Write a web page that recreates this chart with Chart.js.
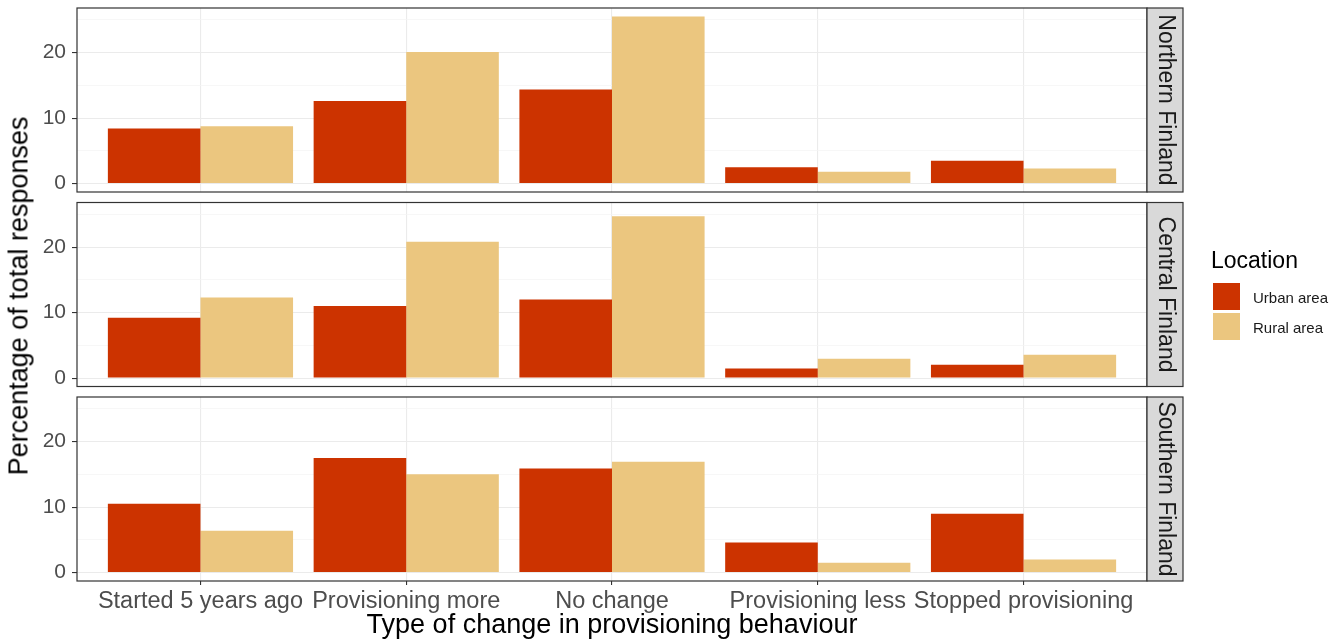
<!DOCTYPE html>
<html><head><meta charset="utf-8">
<script src="https://cdn.jsdelivr.net/npm/chart.js@4"></script>
<style>
html,body{margin:0;padding:0;background:#fff;}
#wrap{position:relative;width:1340px;height:644px;overflow:hidden;font-family:"Liberation Sans",Arial,sans-serif;}
canvas.c{position:absolute;left:0;top:0;pointer-events:none;}
#ytitle{position:absolute;left:19px;top:296px;transform:translate(-50%,-50%) rotate(-90deg);font-size:27px;line-height:1;white-space:nowrap;color:#000;}
.lg{position:absolute;white-space:nowrap;line-height:1;}
.key{position:absolute;width:27px;height:27px;}
</style></head><body>
<div id="wrap">
<canvas id="c0" class="c" width="1340" height="644"></canvas>
<canvas id="c1" class="c" width="1340" height="644"></canvas>
<canvas id="c2" class="c" width="1340" height="644"></canvas>
<div id="ytitle">Percentage of total responses</div>
<div class="lg" id="lgTitle" style="left:1211px;top:249px;font-size:23px;color:#000;"></div>
<div class="key" id="k0" style="left:1213px;top:283px;"></div>
<div class="key" id="k1" style="left:1213px;top:313px;"></div>
<div class="lg" id="l0" style="left:1253px;top:290px;font-size:15px;color:#1a1a1a;"></div>
<div class="lg" id="l1" style="left:1253px;top:320px;font-size:15px;color:#1a1a1a;"></div>
</div>
<script>
const categories = ['Started 5 years ago', 'Provisioning more', 'No change', 'Provisioning less', 'Stopped provisioning'];
const regions = ['Northern Finland', 'Central Finland', 'Southern Finland'];
const seriesNames = ['Urban area', 'Rural area'];
const legendTitle = 'Location';
const xTitle = 'Type of change in provisioning behaviour';
const urbanNorthern = [8.4, 12.6, 14.35, 2.5, 3.5];
const ruralNorthern = [8.75, 20.1, 25.5, 1.8, 2.3];
const urbanCentral = [9.2, 11.0, 12.0, 1.45, 2.05];
const ruralCentral = [12.3, 20.8, 24.7, 2.95, 3.55];
const urbanSouthern = [10.5, 17.5, 15.9, 4.6, 9.0];
const ruralSouthern = [6.4, 15.0, 16.9, 1.5, 2.0];
const yTicks = [0, 5, 10, 15, 20, 25];
const yTickLabels = [0, 10, 20];

const colors = ['#cc3300', '#ebc67f'];
const FAM = '"Liberation Sans", Arial, sans-serif';

document.getElementById('lgTitle').textContent = legendTitle;
document.getElementById('l0').textContent = seriesNames[0];
document.getElementById('l1').textContent = seriesNames[1];
document.getElementById('k0').style.background = colors[0];
document.getElementById('k1').style.background = colors[1];

const panelPlugin = {
  id: 'panel',
  afterDatasetsDraw(chart, args, opts) {
    const {ctx, chartArea: a} = chart;
    ctx.save();
    ctx.strokeStyle = '#333333';
    ctx.lineWidth = 1.2;
    ctx.strokeRect(a.left, a.top, a.right - a.left, a.bottom - a.top);
    const sw = 36;
    ctx.fillStyle = '#d9d9d9';
    ctx.fillRect(a.right, a.top, sw, a.bottom - a.top);
    ctx.strokeRect(a.right, a.top, sw, a.bottom - a.top);
    ctx.translate(a.right + sw / 2, (a.top + a.bottom) / 2);
    ctx.rotate(Math.PI / 2);
    ctx.fillStyle = '#1a1a1a';
    ctx.font = '23px ' + FAM;
    ctx.textAlign = 'center';
    ctx.textBaseline = 'middle';
    ctx.fillText(opts.label, 0, 0);
    ctx.restore();
  }
};

const panels = [
  {id: 'c0', label: regions[0], urban: urbanNorthern, rural: ruralNorthern, top: 8, bottom: 192, showX: false},
  {id: 'c1', label: regions[1], urban: urbanCentral, rural: ruralCentral, top: 202.5, bottom: 386.5, showX: false},
  {id: 'c2', label: regions[2], urban: urbanSouthern, rural: ruralSouthern, top: 397, bottom: 581, showX: true}
];

panels.forEach(p => {
  new Chart(document.getElementById(p.id), {
    type: 'bar',
    data: {
      datasets: [
        {label: seriesNames[0], data: p.urban.map((v, i) => ({x: i + 1, y: v})), backgroundColor: colors[0]},
        {label: seriesNames[1], data: p.rural.map((v, i) => ({x: i + 1, y: v})), backgroundColor: colors[1]}
      ]
    },
    options: {
      responsive: false,
      animation: false,
      events: [],
      layout: {padding: {left: 0, right: 1340 - 1147, top: p.top, bottom: p.showX ? 0 : 644 - p.bottom}},
      datasets: {bar: {categoryPercentage: 0.9, barPercentage: 1, borderWidth: 0}},
      plugins: {legend: {display: false}, tooltip: {enabled: false}, panel: {label: p.label}},
      scales: {
        x: {
          type: 'linear', min: 0.4, max: 5.6, offset: false,
          afterBuildTicks: s => { s.ticks = categories.map((c, i) => ({value: i + 1})); },
          afterFit: s => { s.height = p.showX ? 644 - p.bottom : 0; s.paddingLeft = 0; s.paddingRight = 0; },
          ticks: {display: p.showX, autoSkip: false, maxRotation: 0, minRotation: 0, padding: 2,
                  color: '#4d4d4d', font: {size: 23.5, family: FAM},
                  callback: v => categories[Math.round(v) - 1]},
          grid: {offset: false, color: '#ebebeb', lineWidth: 1.1, drawTicks: p.showX, tickLength: 4, tickColor: '#333333'},
          border: {display: false},
          title: {display: p.showX, text: xTitle, color: '#000', font: {size: 27, family: FAM}, padding: {top: 0, bottom: 2}}
        },
        y: {
          min: -1.28, max: 26.8,
          afterBuildTicks: s => { s.ticks = yTicks.map(v => ({value: v})); },
          afterFit: s => { s.width = 77; s.paddingTop = 0; s.paddingBottom = 0; },
          ticks: {color: '#4d4d4d', padding: 6, font: {size: 21, family: FAM},
                  callback: v => yTickLabels.includes(v) ? String(v) : ''},
          grid: {
            color: c => (c.tick && yTickLabels.includes(c.tick.value)) ? '#ebebeb' : '#f3f3f3',
            lineWidth: c => (c.tick && yTickLabels.includes(c.tick.value)) ? 1.1 : 0.7,
            tickLength: 5,
            tickColor: c => (c.tick && yTickLabels.includes(c.tick.value)) ? '#333333' : 'rgba(0,0,0,0)'
          },
          border: {display: false}
        }
      }
    },
    plugins: [panelPlugin]
  });
});
</script>
</body></html>
